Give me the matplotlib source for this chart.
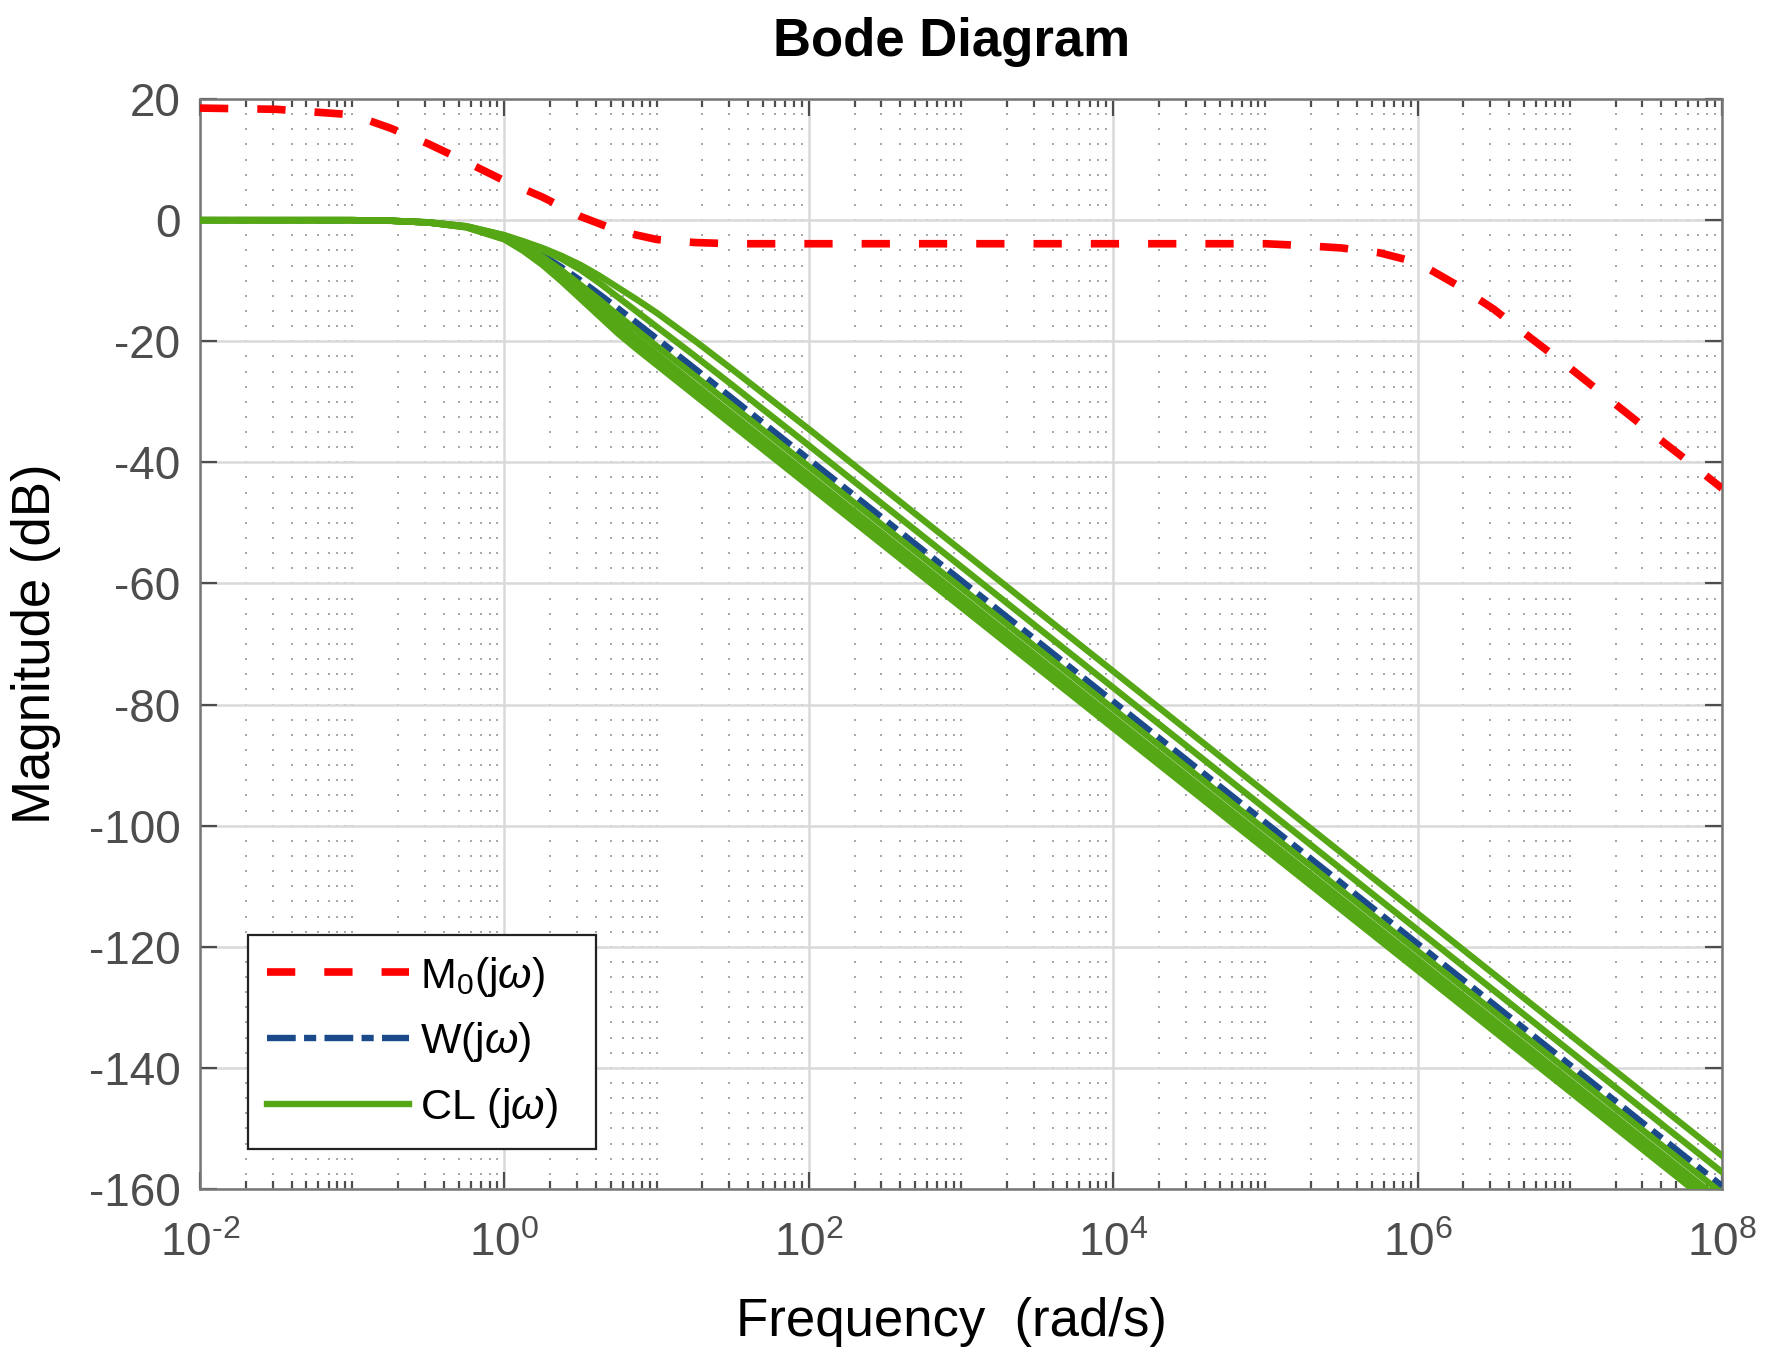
import numpy as np
import matplotlib
matplotlib.use("Agg")
import matplotlib.pyplot as plt
from matplotlib.ticker import LogLocator, MultipleLocator, NullFormatter, FixedLocator

matplotlib.rcParams["font.family"] = ["Liberation Sans", "DejaVu Sans"]
matplotlib.rcParams["mathtext.fontset"] = "custom"
matplotlib.rcParams["mathtext.rm"] = "Liberation Sans"
matplotlib.rcParams["mathtext.it"] = "Liberation Sans:italic"
matplotlib.rcParams["mathtext.default"] = "regular"
matplotlib.rcParams["axes.unicode_minus"] = False

# M0(jw) (rad/s, dB)
w_m0 = [1e-2, 10**-1.5, 1e-1, 10**-0.75, 10**-0.5, 10**-0.25, 1, 10**0.25, 10**0.5,
        10**0.75, 10, 10**1.25, 10**1.5, 1e2, 1e5, 10**5.25, 10**5.5, 10**5.75, 1e6,
        10**6.25, 10**6.5, 10**6.75, 1e7, 10**7.25, 10**7.5, 10**7.75, 1e8]
mag_m0 = [18.5, 18.3, 17.4, 15.2, 12.6, 9.6, 6.5, 3.8, 0.6,
          -1.8, -3.2, -3.7, -3.9, -3.9, -3.9, -4.2, -4.6, -5.4, -7.0,
          -10.6, -14.7, -19.6, -24.4, -29.4, -34.4, -39.3, -44.3]

# W(jw) and the CL(jw) family share one frequency grid
w_cl = [1e-2, 1e-1, 10**-0.75, 10**-0.5, 10**-0.25, 1, 10**0.125, 10**0.25, 10**0.375,
        10**0.5, 10**0.625, 10**0.75, 10**0.875, 10, 10**1.25, 10**1.5, 1e2, 1e8]
mag_w = [0, -0.04, -0.12, -0.37, -1.07, -2.76, -4.12, -5.81, -7.78,
         -9.96, -12.26, -14.65, -17.08, -19.54, -24.5, -29.5, -39.5, -159.5]
mag_cl = [
    [0, 0, -0.1, -0.35, -1.0, -2.5, -3.5, -4.6, -5.9, -7.4, -9.2, -11.2, -13.2, -15.3, -19.9, -24.7, -34.5, -154.5],
    [0, 0, -0.1, -0.35, -1.0, -2.5, -3.6, -4.9, -6.4, -8.2, -10.4, -12.8, -15.2, -17.6, -22.4, -27.3, -37.2, -157.2],
    [0, 0, -0.1, -0.4, -1.1, -2.8, -4.3, -6.1, -8.3, -10.7, -13.2, -15.8, -18.3, -20.8, -25.7, -30.7, -40.7, -160.7],
    [0, 0, -0.1, -0.4, -1.1, -2.9, -4.5, -6.5, -8.9, -11.5, -14.3, -17.0, -19.6, -22.1, -27.1, -32.1, -42.1, -162.1],
    [0, 0, -0.1, -0.4, -1.1, -3.0, -4.7, -6.8, -9.3, -12.0, -14.9, -17.6, -20.2, -22.7, -27.7, -32.7, -42.7, -162.7],
    [0, 0, -0.1, -0.4, -1.2, -3.1, -4.9, -7.1, -9.7, -12.5, -15.4, -18.2, -20.8, -23.3, -28.3, -33.3, -43.3, -163.3],
    [0, 0, -0.1, -0.4, -1.2, -3.2, -5.1, -7.4, -10.1, -13.0, -15.9, -18.8, -21.4, -23.9, -28.9, -33.9, -43.9, -163.9],
]

xticks = [1e-2, 1e0, 1e2, 1e4, 1e6, 1e8]
xticklabels = [r"$10^{\text{-}2}$", "$10^{0}$", "$10^{2}$", "$10^{4}$", "$10^{6}$", "$10^{8}$"]
yticks = [20, 0, -20, -40, -60, -80, -100, -120, -140, -160]

red = "#FF0000"
blue = "#1B4A8A"
green = "#55A716"
tick_gray = "#4D4D4D"

fig = plt.figure(figsize=(17.71, 13.71), dpi=100)
ax = fig.add_axes([200 / 1771, 1 - 1189 / 1371, 1522 / 1771, 1090 / 1371])

ax.semilogx(w_m0, mag_m0, color=red, lw=5.5, dashes=(3.7, 3.8),
            label=r"M$_0$(j$\mathit{\omega}$)", zorder=3)
ax.semilogx(w_cl, mag_w, color=blue, lw=4.6, dashes=(4.5, 1.3, 1.9, 1.3),
            label=r"W(j$\mathit{\omega}$)", zorder=3)
for i, m in enumerate(mag_cl):
    ax.semilogx(w_cl, m, color=green, lw=4.6,
                label=r"CL (j$\mathit{\omega}$)" if i == 0 else None, zorder=4)

ax.set_xlim(1e-2, 1e8)
ax.set_ylim(-160, 20)
ax.xaxis.set_major_locator(FixedLocator(xticks))
ax.set_xticklabels(xticklabels)
ax.xaxis.set_minor_locator(LogLocator(base=10, subs=np.arange(1, 10), numticks=30))
ax.xaxis.set_minor_formatter(NullFormatter())
ax.set_yticks(yticks)
ax.yaxis.set_minor_locator(MultipleLocator(2.5))

# major grid as lines, minor grid as the dotted lattice MATLAB leaves behind
ax.grid(True, which="major", color="#D9D9D9", lw=1.8, ls="-", zorder=0)
ax.set_axisbelow(True)
xm = [x for x in ax.xaxis.get_minorticklocs() if 1e-2 < x < 1e8]
xm = [x for x in xm if not any(np.isclose(x, t) for t in xticks)]
ym = np.arange(-160, 20.01, 2.5)
gx, gy = np.meshgrid(xm, ym)
ax.plot(gx.ravel(), gy.ravel(), ls="none", marker="s", ms=1.5, mew=0,
        color="#A8A8A8", zorder=0.5)

ax.tick_params(which="both", direction="in", top=True, right=True, colors=tick_gray,
               labelsize=33, width=1.6)
ax.tick_params(axis="x", which="major", length=12, pad=24)
ax.tick_params(axis="x", which="minor", length=6)
ax.tick_params(axis="y", which="major", length=12, pad=14)
ax.tick_params(axis="y", which="minor", length=0)
for s in ax.spines.values():
    s.set_color("#777777")
    s.set_linewidth(1.8)

ax.set_xlabel("Frequency  (rad/s)", fontsize=38, color="black")
ax.xaxis.set_label_coords(0.494, -0.099)
ax.xaxis.label.set_va("top")
ax.set_ylabel("Magnitude (dB)", fontsize=38, color="black")
ax.yaxis.set_label_coords(-0.091, 0.5)

fig.text(952 / 1771, 1 - 42 / 1371, "Bode Diagram", fontsize=38, fontweight="bold",
         ha="center", va="center")

leg = ax.legend(loc="lower left", bbox_to_anchor=(0.0315, 0.0367, 0.229, 0.1945),
                mode="expand", borderaxespad=0,
                fontsize=31, handlelength=3.3, handletextpad=0.25, borderpad=0.45,
                labelspacing=0.5, fancybox=False, framealpha=1, edgecolor="#222222")
leg.get_frame().set_linewidth(1.6)

fig.savefig("out.png", dpi=100)
